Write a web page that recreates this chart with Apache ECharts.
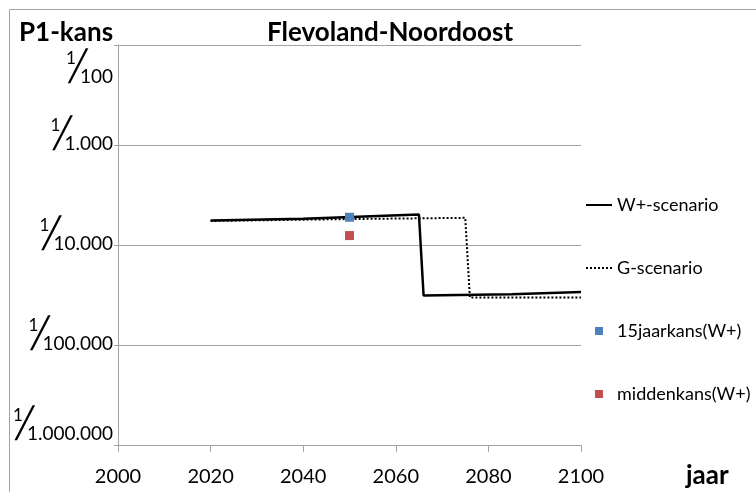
<!DOCTYPE html>
<html>
<head>
<meta charset="utf-8">
<script src="https://cdn.jsdelivr.net/npm/echarts@6/dist/echarts.min.js"></script>
<style>
  html, body { margin: 0; padding: 0; background: #fff; }
  #chart { width: 756px; height: 492px; }
</style>
</head>
<body>
<div id="chart"></div>
<script>
// Overstromingskans (P1) per jaar, as 1/N
const wPlusYears = [2020, 2040, 2065, 2066, 2085, 2100];
const wPlusReturn = [5700, 5450, 4950, 32000, 31000, 29500];

const gYears = [2020, 2050, 2075, 2076, 2100];
const gReturn = [5750, 5500, 5350, 33500, 33500];

const pointYear = [2050];
const fifteenYearReturn = [5280];
const middleReturn = [8050];

const xTicks = [2000, 2020, 2040, 2060, 2080, 2100];
const yTickValues = [1e-6, 1e-5, 1e-4, 1e-3, 1e-2];
const yTickDenominators = ['1.000.000', '100.000', '10.000', '1.000', '100'];

const seriesNames = ['W+-scenario', 'G-scenario', '15jaarkans(W+)', 'middenkans(W+)'];

const FONT = 'Lato, "Noto Sans", sans-serif';
const GREY = '#a3a3a3';
const SQUARE = 'path://M0,0h10v10h-10z';

const toPairs = (xs, ns) => xs.map((x, i) => [x, 1 / ns[i]]);

// Fraction-style label "1/N"; the extra blank line nudges the fraction
// so that it sits just above its grid line (below it for the top tick).
function fractionLabel(v) {
  let idx = 0;
  let best = Infinity;
  yTickValues.forEach((t, i) => {
    const d = Math.abs(Math.log10(t) - Math.log10(v));
    if (d < best) { best = d; idx = i; }
  });
  const frac = '{n|1}{s|\u2571}{d|' + yTickDenominators[idx] + '}';
  if (idx === yTickValues.length - 1) return '{gapTop| }\n' + frac;
  if (idx === 0) return frac + '\n{gapBottom| }';
  return frac + '\n{gap| }';
}

const chart = echarts.init(document.getElementById('chart'), null, { renderer: 'canvas' });

chart.setOption({
  animation: false,
  backgroundColor: '#fff',
  textStyle: { fontFamily: FONT },
  title: {
    text: 'Flevoland-Noordoost',
    left: 385,
    textAlign: 'center',
    top: 15,
    textStyle: { fontFamily: FONT, fontWeight: 'bold', fontSize: 26, color: '#000' }
  },
  graphic: [
    { type: 'rect', silent: true, shape: { x: 9.5, y: 9.5, width: 800, height: 600 },
      style: { fill: 'none', stroke: GREY, lineWidth: 1 } },
    { type: 'text', left: 19, top: 20,
      style: { text: 'P1-kans', font: 'bold 26px ' + FONT, fill: '#000' } },
    { type: 'text', left: 686, top: 463,
      style: { text: 'jaar', font: 'bold 26px ' + FONT, fill: '#000' } }
  ],
  legend: {
    orient: 'vertical',
    left: 585,
    top: 195,
    padding: 0,
    itemWidth: 26,
    itemHeight: 8,
    itemGap: 43,
    symbolKeepAspect: true,
    textStyle: { fontFamily: FONT, fontSize: 18, lineHeight: 20, color: '#000' },
    data: [
      { name: seriesNames[0], itemStyle: { opacity: 0 } },
      { name: seriesNames[1], itemStyle: { opacity: 0 } },
      { name: seriesNames[2], icon: SQUARE },
      { name: seriesNames[3], icon: SQUARE }
    ]
  },
  grid: { left: 118, top: 45, right: 175, bottom: 47, containLabel: false },
  xAxis: {
    type: 'value',
    min: 2000,
    max: 2100,
    interval: 20,
    axisLine: { show: true, lineStyle: { color: GREY, width: 1 } },
    axisTick: { show: true, length: 7, lineStyle: { color: GREY } },
    splitLine: { show: false },
    axisLabel: {
      margin: 22,
      fontFamily: FONT,
      fontSize: 20,
      color: '#000',
      customValues: xTicks,
      formatter: v => String(v)
    }
  },
  yAxis: {
    type: 'log',
    logBase: 10,
    min: yTickValues[0],
    max: yTickValues[yTickValues.length - 1],
    axisLine: { show: true, lineStyle: { color: GREY, width: 1 } },
    axisTick: { show: true, length: 4, lineStyle: { color: GREY } },
    splitLine: { show: true, lineStyle: { color: GREY, width: 1 } },
    axisLabel: {
      margin: 5,
      color: '#000',
      formatter: fractionLabel,
      rich: {
        n: { fontFamily: FONT, fontSize: 17, color: '#000', verticalAlign: 'top', lineHeight: 18 },
        s: { fontFamily: 'DejaVu Sans', fontSize: 30, color: '#000', lineHeight: 36, width: 4, align: 'center' },
        d: { fontFamily: FONT, fontSize: 19, color: '#000', verticalAlign: 'bottom', lineHeight: 20 },
        gap: { fontSize: 10, lineHeight: 20 },
        gapTop: { fontSize: 10, lineHeight: 46 },
        gapBottom: { fontSize: 10, lineHeight: 40 }
      }
    }
  },
  series: [
    {
      name: seriesNames[0],
      type: 'line',
      symbol: 'none',
      data: toPairs(wPlusYears, wPlusReturn),
      lineStyle: { color: '#000', width: 2.5, type: 'solid' },
      itemStyle: { color: '#000' },
      z: 3
    },
    {
      name: seriesNames[1],
      type: 'line',
      symbol: 'none',
      data: toPairs(gYears, gReturn),
      lineStyle: { color: '#000', width: 2, type: [2, 2] },
      itemStyle: { color: '#000' },
      z: 2
    },
    {
      name: seriesNames[2],
      type: 'scatter',
      symbol: 'rect',
      symbolSize: 9,
      data: toPairs(pointYear, fifteenYearReturn),
      itemStyle: { color: '#4f81bd', opacity: 1 },
      z: 4
    },
    {
      name: seriesNames[3],
      type: 'scatter',
      symbol: 'rect',
      symbolSize: 9,
      data: toPairs(pointYear, middleReturn),
      itemStyle: { color: '#c0504d', opacity: 1 },
      z: 4
    }
  ]
});
</script>
</body>
</html>
